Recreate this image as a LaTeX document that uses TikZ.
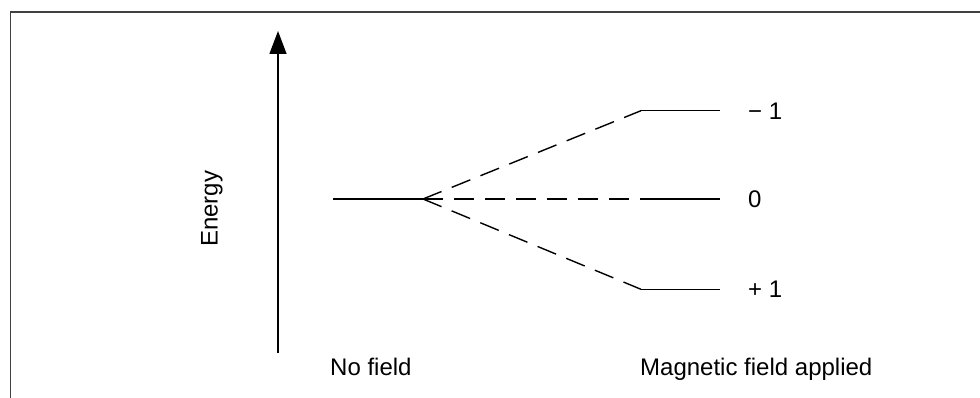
\documentclass[tikz,border=0pt]{standalone}
\usepackage{fontspec}
\setmainfont{Liberation Sans}
\usetikzlibrary{arrows.meta}
\begin{document}
\begin{tikzpicture}[x=1pt,y=-1pt,
  frame/.style={draw=black!75,line width=1.3pt},
  level/.style={draw=black,line width=1.4pt},
  split/.style={draw=black,line width=1.4pt,dash pattern=on 20pt off 11pt},
  axis/.style={draw=black,line width=1.4pt,-{Triangle[length=23pt,width=17pt]}},
  lbl/.style={inner sep=0pt,font=\fontsize{24}{28}\selectfont}]
\useasboundingbox (0,0) rectangle (980,398);
% open frame: left and top edges
\draw[frame] (10.5,398) -- (10.5,12) -- (980,12);
% energy axis
\coordinate (axisfoot) at (278,353);
\coordinate (axistip) at (278,31);
\draw[axis] (axisfoot) -- (axistip);
\node[lbl,rotate=90,anchor=base west] (energy) at (217.5,247) {Energy};
% zero-field level and splitting point
\coordinate (zl) at (333,199);
\coordinate (zr) at (423,199);
\draw[level] (zl) -- (zr);
% levels with magnetic field
\coordinate (ul) at (641,110.7);
\coordinate (ur) at (720,110.7);
\coordinate (ml) at (641,199);
\coordinate (mr) at (720,199);
\coordinate (ll) at (641,289.3);
\coordinate (lr) at (720,289.3);
\draw[level] (ul) -- (ur);
\draw[level] (ml) -- (mr);
\draw[level] (ll) -- (lr);
\draw[split] (zr) -- (ul);
\draw[split] (zr) -- (ml);
\draw[split] (zr) -- (ll);
% quantum numbers
\node[lbl,anchor=base west] (mminus) at (748,119.3) {− 1};
\node[lbl,anchor=base west] (mzero) at (748,207.6) {0};
\node[lbl,anchor=base west] (mplus) at (748,297.9) {+ 1};
% captions
\node[lbl,anchor=base west] (nofield) at (330,375) {No field};
\node[lbl,anchor=base west] (withfield) at (640,375) {Magnetic field applied};
\end{tikzpicture}
\end{document}
